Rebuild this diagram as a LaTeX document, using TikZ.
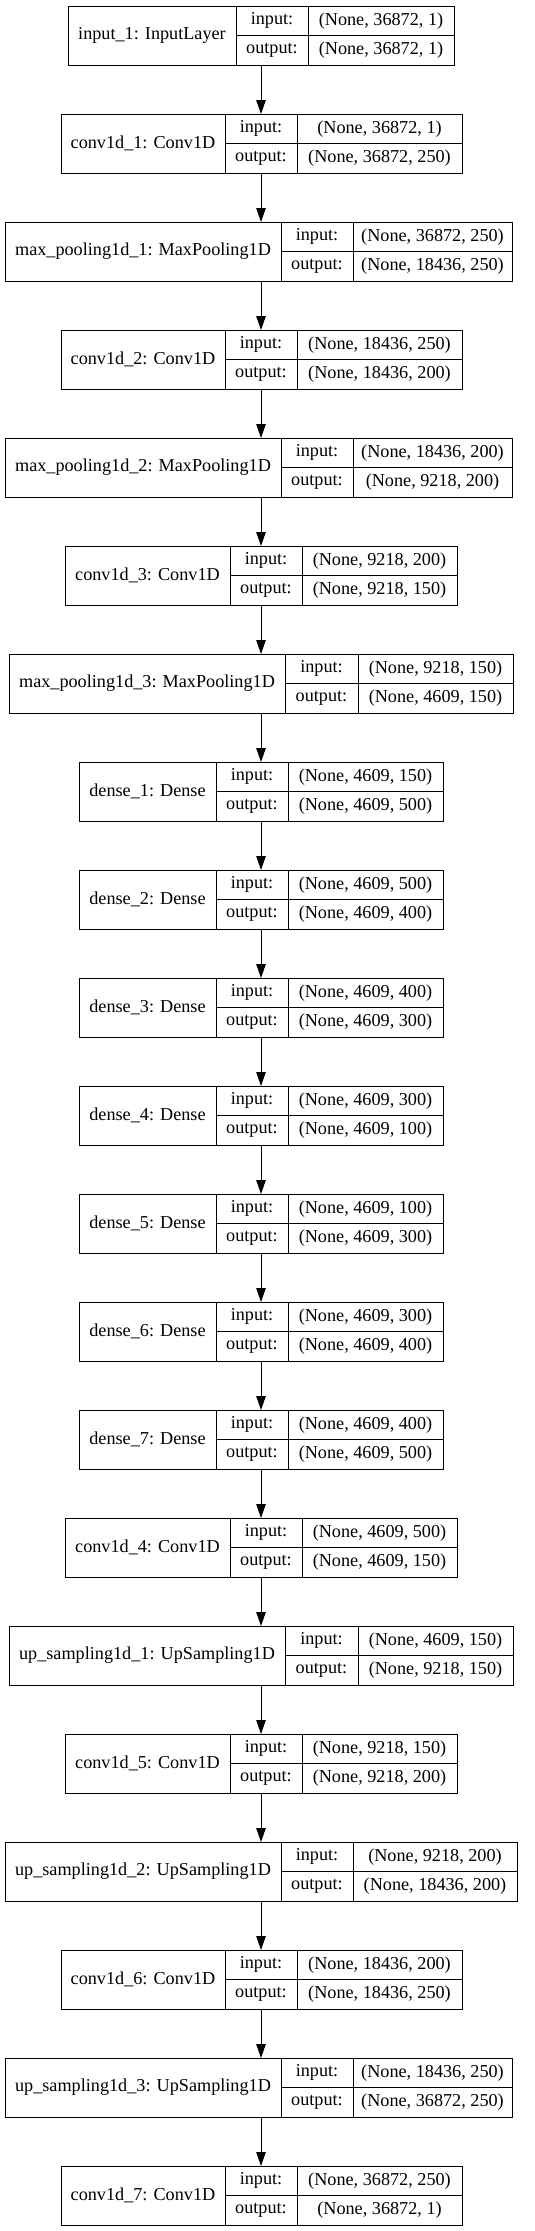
\documentclass[tikz,border=0pt]{standalone}
\usepackage{fontspec}
\setmainfont{Liberation Serif}
\usetikzlibrary{arrows.meta}
\tikzset{
  cell/.style={draw=black, line width=1pt, rectangle, inner sep=0pt, outer sep=0pt,
    anchor=north west, font=\fontsize{18.2}{22}\selectfont},
  flow/.style={draw=black, line width=1pt, -{Triangle[length=14pt,width=9.5pt]}},
}
\begin{document}
\begin{tikzpicture}[x=1pt,y=-1pt]
\useasboundingbox (0,0) rectangle (535,2231);
\coordinate (axis) at (261,0);

% layers: index / cell borders / name / input shape / output shape
\foreach \k/\a/\b/\c/\d/\lbl/\inp/\outp in {
  0/68/236/308/454/{input\_1: InputLayer}/{(None, 36872, 1)}/{(None, 36872, 1)},
  1/61/225/297/462/{conv1d\_1: Conv1D}/{(None, 36872, 1)}/{(None, 36872, 250)},
  2/5/281/353/512/{max\_pooling1d\_1: MaxPooling1D}/{(None, 36872, 250)}/{(None, 18436, 250)},
  3/61/225/297/462/{conv1d\_2: Conv1D}/{(None, 18436, 250)}/{(None, 18436, 200)},
  4/5/281/353/512/{max\_pooling1d\_2: MaxPooling1D}/{(None, 18436, 200)}/{(None, 9218, 200)},
  5/65/230/302/457/{conv1d\_3: Conv1D}/{(None, 9218, 200)}/{(None, 9218, 150)},
  6/9/285/358/513/{max\_pooling1d\_3: MaxPooling1D}/{(None, 9218, 150)}/{(None, 4609, 150)},
  7/79/216/288/443/{dense\_1: Dense}/{(None, 4609, 150)}/{(None, 4609, 500)},
  8/79/216/288/443/{dense\_2: Dense}/{(None, 4609, 500)}/{(None, 4609, 400)},
  9/79/216/288/443/{dense\_3: Dense}/{(None, 4609, 400)}/{(None, 4609, 300)},
  10/79/216/288/443/{dense\_4: Dense}/{(None, 4609, 300)}/{(None, 4609, 100)},
  11/79/216/288/443/{dense\_5: Dense}/{(None, 4609, 100)}/{(None, 4609, 300)},
  12/79/216/288/443/{dense\_6: Dense}/{(None, 4609, 300)}/{(None, 4609, 400)},
  13/79/216/288/443/{dense\_7: Dense}/{(None, 4609, 400)}/{(None, 4609, 500)},
  14/65/230/302/457/{conv1d\_4: Conv1D}/{(None, 4609, 500)}/{(None, 4609, 150)},
  15/9/285/358/513/{up\_sampling1d\_1: UpSampling1D}/{(None, 4609, 150)}/{(None, 9218, 150)},
  16/65/230/302/457/{conv1d\_5: Conv1D}/{(None, 9218, 150)}/{(None, 9218, 200)},
  17/5/281/353/517/{up\_sampling1d\_2: UpSampling1D}/{(None, 9218, 200)}/{(None, 18436, 200)},
  18/61/225/297/462/{conv1d\_6: Conv1D}/{(None, 18436, 200)}/{(None, 18436, 250)},
  19/5/281/353/512/{up\_sampling1d\_3: UpSampling1D}/{(None, 18436, 250)}/{(None, 36872, 250)},
  20/61/225/297/462/{conv1d\_7: Conv1D}/{(None, 36872, 250)}/{(None, 36872, 1)}%
}{
  \pgfmathsetmacro\ytop{6+108*\k}
  \node[cell, minimum width={(\b-\a)*1pt}, minimum height=59pt] (n\k) at (\a,\ytop) {\lbl};
  \node[cell, minimum width={(\c-\b)*1pt}, minimum height=29.5pt] (i\k) at (n\k.north east) {input:};
  \node[cell, minimum width={(\c-\b)*1pt}, minimum height=29.5pt] (o\k) at (i\k.south west) {output:};
  \node[cell, minimum width={(\d-\c)*1pt}, minimum height=29.5pt] (iv\k) at (i\k.north east) {\inp};
  \node[cell, minimum width={(\d-\c)*1pt}, minimum height=29.5pt] (ov\k) at (o\k.north east) {\outp};
}

% connectors
\foreach \k in {0,...,19}{
  \pgfmathtruncatemacro\j{\k+1}
  \draw[flow] (n\k.south -| axis) -- (n\j.north -| axis);
}
\end{tikzpicture}
\end{document}
